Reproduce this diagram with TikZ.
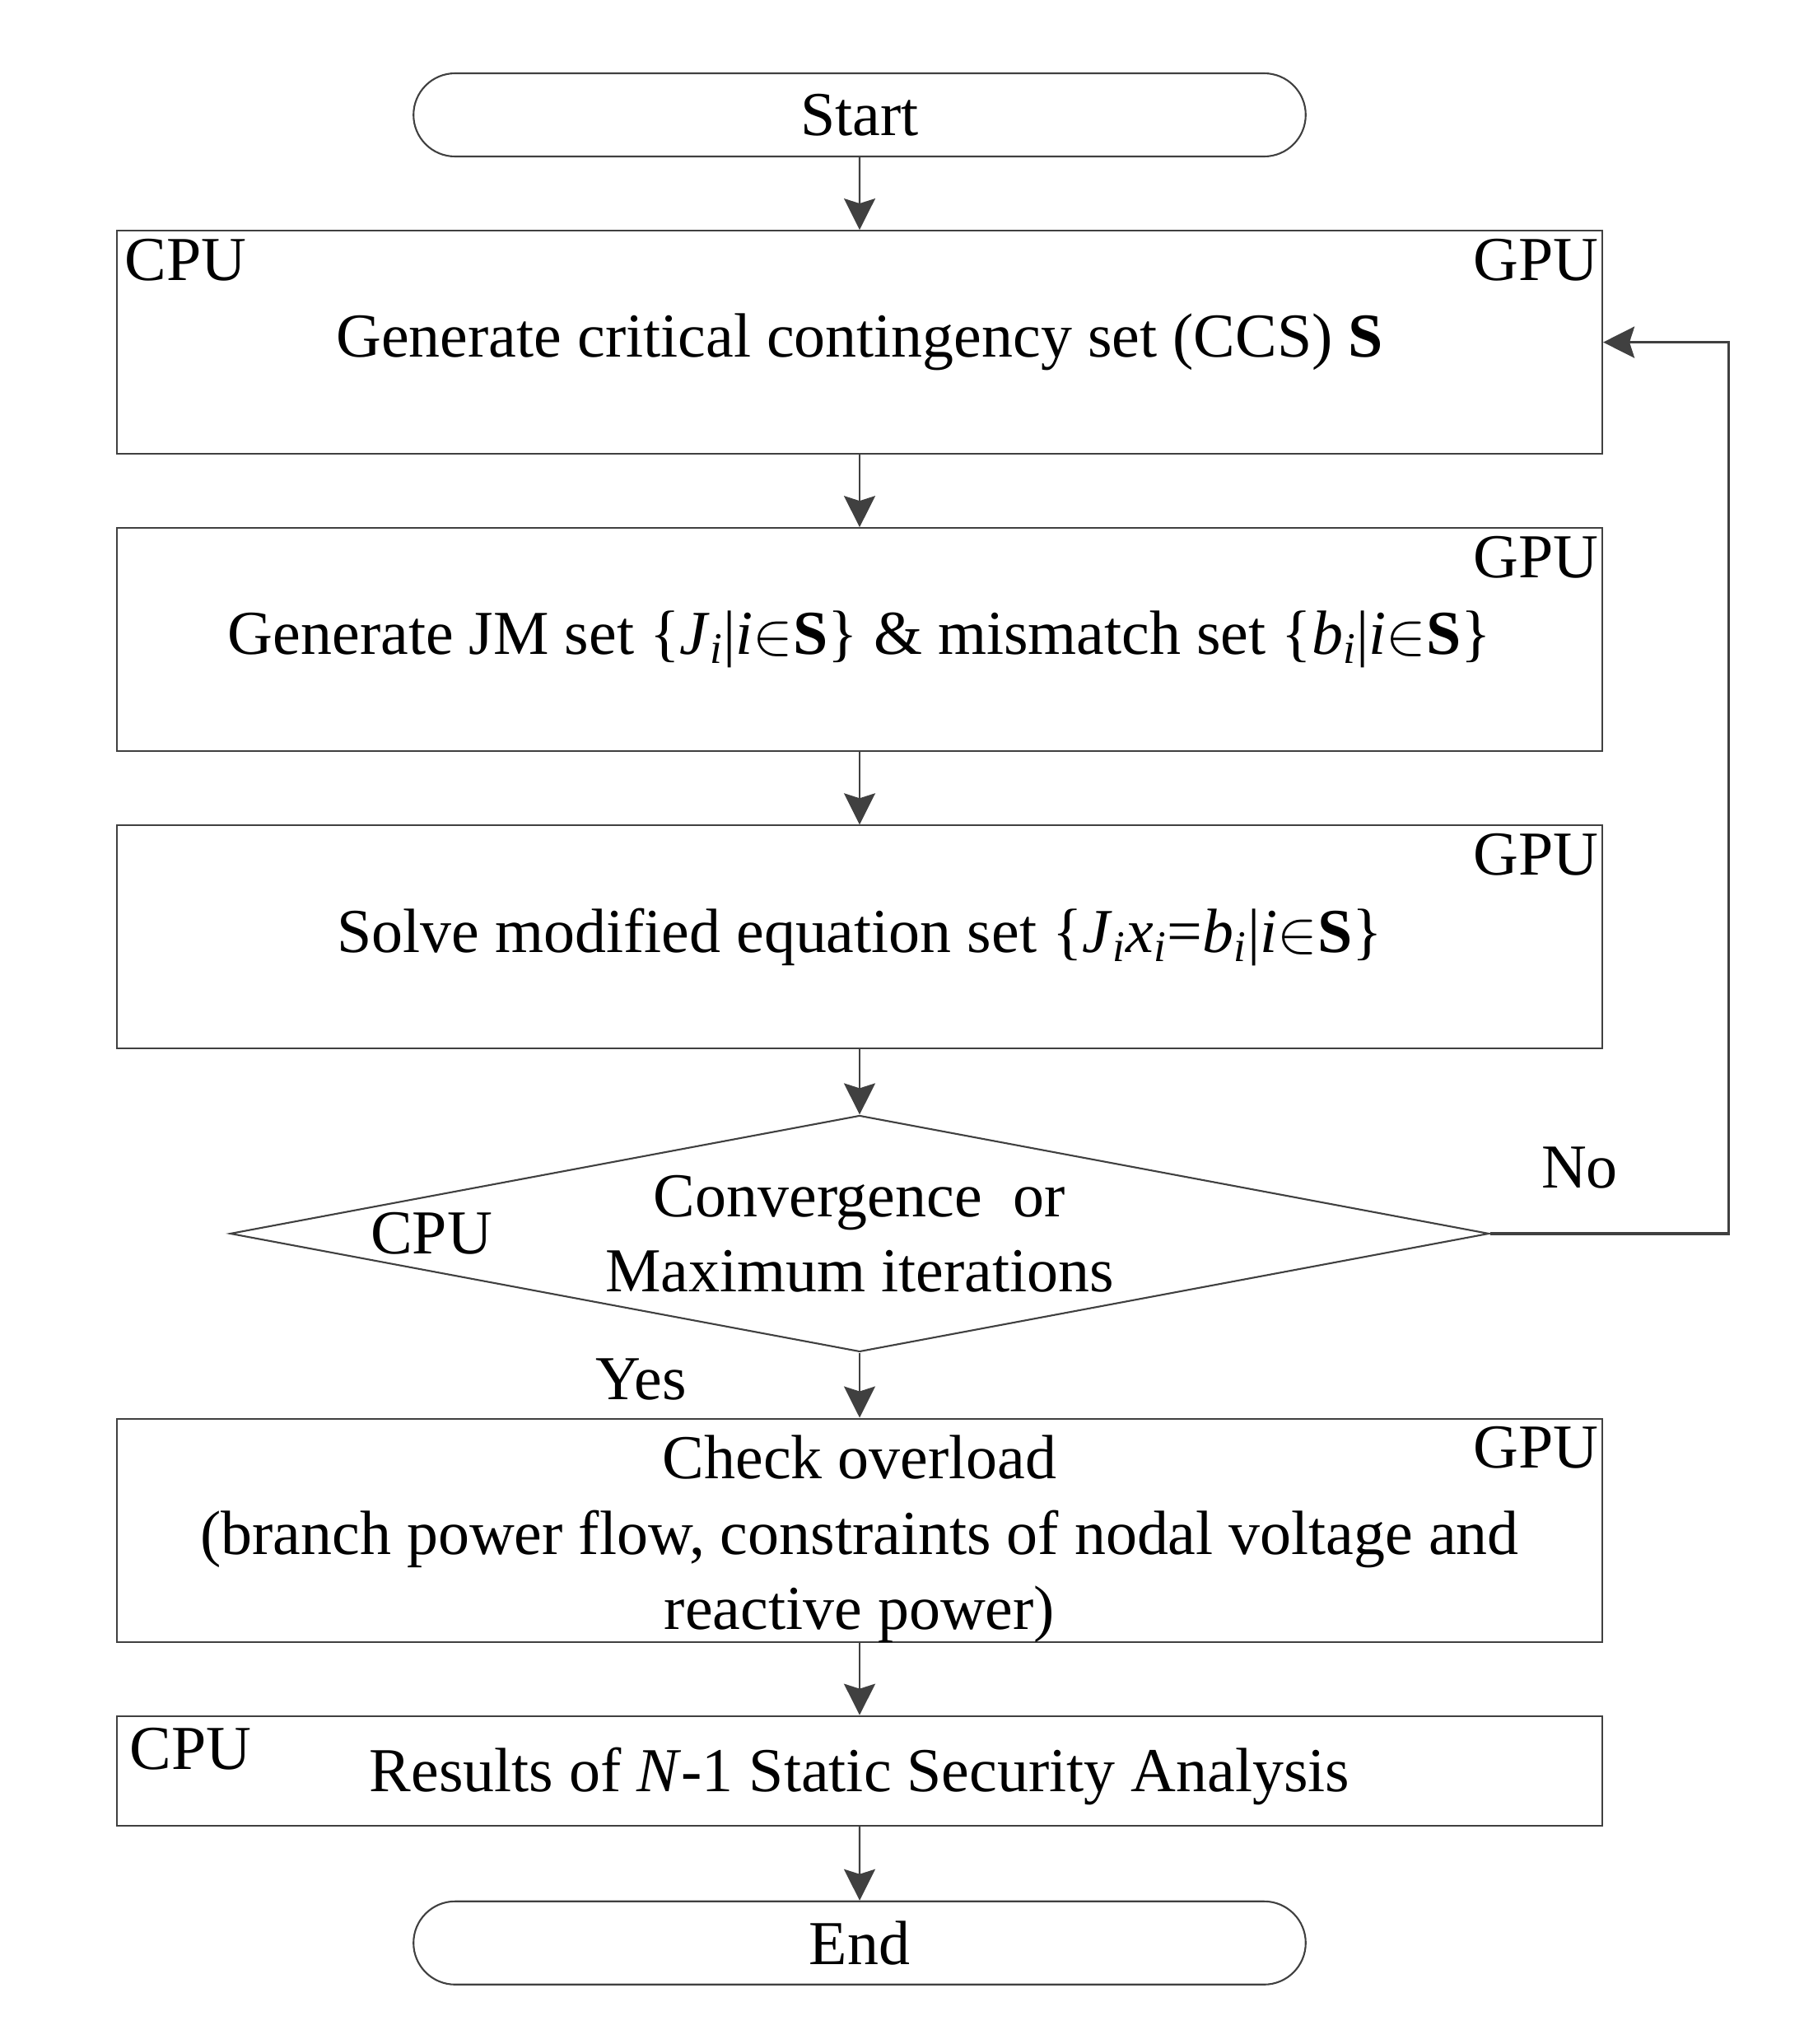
\documentclass[tikz,border=0pt]{standalone}
\usepackage{fontspec}
\setmainfont{Liberation Serif}
\usepackage{xcolor}
\usetikzlibrary{arrows.meta,positioning,shapes.geometric,shapes.misc}
\definecolor{linegray}{HTML}{404040}
\newcommand\chartfont{\fontsize{21.6}{26}\selectfont}
\newcommand\vsub[2]{\textit{#1}\textsubscript{\textit{#2}}}
\newcommand\inS{|\textit{i}$\in$\textbf{S}}
\tikzset{
  term/.style={
    draw=linegray,
    line width=0.6pt,
    rounded rectangle,
    minimum width=11.07cm,
    minimum height=1.01cm,
    font=\chartfont
  },
  proc/.style={
    draw=linegray,
    line width=0.6pt,
    minimum width=18.04cm,
    minimum height=2.71cm,
    inner sep=0pt,
    align=center,
    font=\chartfont
  },
  result/.style={
    proc,
    minimum height=1.33cm
  },
  decision/.style={
    draw=linegray,
    line width=0.6pt,
    diamond,
    aspect=5.33,
    minimum width=15.29cm,
    minimum height=2.87cm,
    inner sep=0pt
  },
  tag/.style={inner sep=0pt, font=\chartfont},
  flow/.style={-{Stealth[length=3.8mm,width=3.8mm,inset=0.6mm]}, line width=0.6pt, draw=linegray},
  back/.style={flow, line width=1pt}
}

\begin{document}
\begin{tikzpicture}[node distance=0.88cm]
  \useasboundingbox (0,0) rectangle (21.91,-24.82);

  \node[term] (start) at (10.44,-1.395) {Start};
  \node[proc, below=of start] (ccs) {Generate critical contingency set (CCS) \textbf{S}};
  \node[proc, below=of ccs] (jm) {Generate JM set \{\vsub{J}{i}\inS\} \& mismatch set \{\vsub{b}{i}\inS\}};
  \node[proc, below=of jm] (solve) {Solve modified equation set \{\vsub{J}{i}\vsub{x}{i}=\vsub{b}{i}\inS\}};
  \node[decision, below=0.79cm of solve] (conv) {};
  \node[tag, align=center] (convtxt) at (conv) {Convergence\ \ or\\Maximum iterations};
  \node[proc, below=0.79cm of conv] (check) {};
  \node[tag, align=center] (checktxt) at ([yshift=-0.11cm]check.center) {Check overload\\(branch power flow, constraints of nodal voltage and\\reactive power)};
  \node[result, below=of check] (res) {};
  \node[tag] (restxt) at ([yshift=-0.07cm]res.center) {Results of \textit{N}-1 Static Security Analysis};
  \node[term, below=0.9cm of res] (end) {End};

  \node[tag, anchor=north west] (cpu1) at ([shift={(0.1,-0.1)}]ccs.north west) {CPU};
  \node[tag, anchor=north east] (gpu1) at ([shift={(-0.05,-0.1)}]ccs.north east) {GPU};
  \node[tag, anchor=north east] (gpu2) at ([shift={(-0.05,-0.1)}]jm.north east) {GPU};
  \node[tag, anchor=north east] (gpu3) at ([shift={(-0.05,-0.1)}]solve.north east) {GPU};
  \node[tag] (cpu2) at ([xshift=-5.2cm]conv.center) {CPU};
  \node[tag, anchor=north east] (gpu4) at ([shift={(-0.05,-0.1)}]check.north east) {GPU};
  \node[tag, anchor=north west] (cpu3) at ([shift={(0.16,-0.15)}]res.north west) {CPU};
  \node[tag] (no) at ([shift={(1.09,0.8)}]conv.east) {No};
  \node[tag] (yes) at ([shift={(-2.65,-0.33)}]conv.south) {Yes};

  \draw[flow] (start) -- (ccs);
  \draw[flow] (ccs) -- (jm);
  \draw[flow] (jm) -- (solve);
  \draw[flow] (solve) -- (conv);
  \draw[flow] (conv) -- (check);
  \draw[flow] (check) -- (res);
  \draw[flow] (res) -- (end);
  \draw[back] (conv.east) -- ++(2.9,0) |- (ccs.east);
\end{tikzpicture}
\end{document}
